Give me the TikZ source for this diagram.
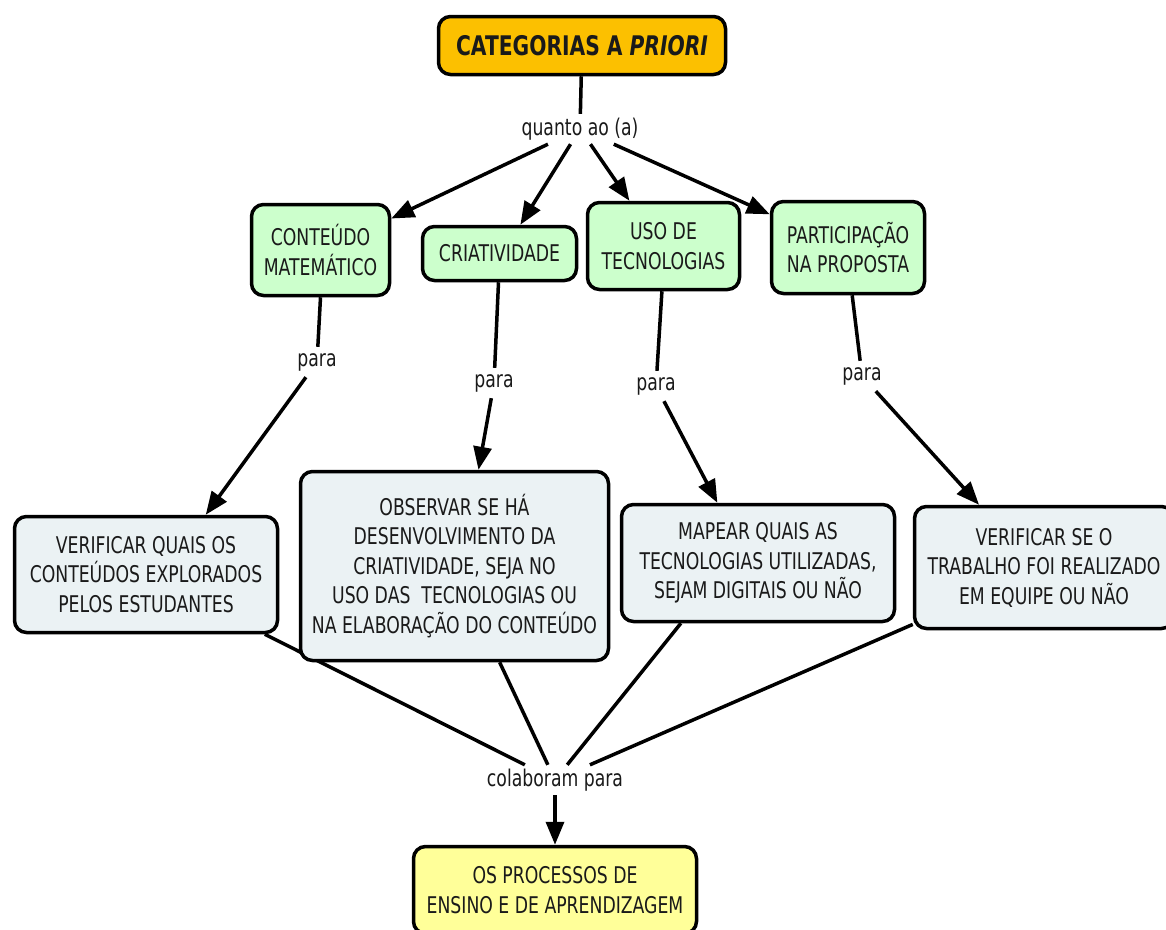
\documentclass[tikz,border=0pt]{standalone}
\usepackage{fontspec}
\setmainfont{DejaVu Sans}[FakeStretch=0.75]
\usetikzlibrary{arrows.meta}

\definecolor{boxgreen}{HTML}{CCFFCC}
\definecolor{boxgrey}{HTML}{EBF2F4}
\definecolor{boxyellow}{HTML}{FFFF99}
\definecolor{boxorange}{HTML}{FCC000}
\definecolor{ink}{HTML}{1A1A1A}

% connectors go on a layer below the concept boxes
\pgfdeclarelayer{links}
\pgfsetlayers{links,main}

\tikzset{
  concept/.style={draw=black, line width=3.5pt, rounded corners=12pt,
    align=center, text=ink, inner sep=2pt,
    font=\fontsize{23}{29.5}\selectfont},
  greenbox/.style={concept, fill=boxgreen},
  greybox/.style={concept, fill=boxgrey},
  linklabel/.style={text=ink, inner sep=2pt, minimum height=30pt,
    font=\fontsize{23}{28}\selectfont},
  link/.style={line width=3.5pt, draw=black},
  linkarrow/.style={link, -{Triangle[length=23pt 0, width=18pt 0]}}
}

\begin{document}
\begin{tikzpicture}[x=1pt, y=-1pt]
  \useasboundingbox (0,0) rectangle (1166,929);
  \clip (0,0) rectangle (1166,929);

  % root concept
  \node[concept, fill=boxorange, minimum width=287pt, minimum height=58pt,
        font=\fontsize{27}{32}\selectfont\bfseries]
    (top) at (582,45.5) {CATEGORIAS A \textit{PRIORI}};
  \node[linklabel] (q) at (580,129) {quanto ao (a)};

  % categories
  \node[greenbox, minimum width=138pt, minimum height=91pt]
    (cm) at (320.5,250) {CONTEÚDO\\MATEMÁTICO};
  \node[greenbox, minimum width=154pt, minimum height=54pt]
    (cri) at (499.5,253.5) {CRIATIVIDADE};
  \node[greenbox, minimum width=152pt, minimum height=87pt]
    (uso) at (663.5,246) {USO DE\\TECNOLOGIAS};
  \node[greenbox, minimum width=153pt, minimum height=92pt]
    (par) at (848,247.5) {PARTICIPAÇÃO\\NA PROPOSTA};

  % "para" links
  \node[linklabel] (p1) at (317,362) {para};
  \node[linklabel] (p2) at (494,383) {para};
  \node[linklabel] (p3) at (656,386) {para};
  \node[linklabel] (p4) at (862,376) {para};

  % purposes
  \node[greybox, minimum width=263pt, minimum height=116pt]
    (v1) at (146,574.5) {VERIFICAR QUAIS OS\\CONTEÚDOS EXPLORADOS\\PELOS ESTUDANTES};
  \node[greybox, minimum width=308pt, minimum height=189pt]
    (obs) at (454.5,566) {OBSERVAR SE HÁ\\DESENVOLVIMENTO DA\\CRIATIVIDADE, SEJA NO\\USO DAS\ \ TECNOLOGIAS OU\\NA ELABORAÇÃO DO CONTEÚDO};
  \node[greybox, minimum width=273pt, minimum height=117pt]
    (map) at (758,563) {MAPEAR QUAIS AS\\TECNOLOGIAS UTILIZADAS,\\SEJAM DIGITAIS OU NÃO};
  \node[greybox, minimum width=259pt, minimum height=122pt]
    (v2) at (1044,567.5) {VERIFICAR SE O\\TRABALHO FOI REALIZADO\\EM EQUIPE OU NÃO};

  % goal
  \node[linklabel] (c) at (555,780) {colaboram para};
  \node[concept, fill=boxyellow, minimum width=283pt, minimum height=87pt]
    (proc) at (555,890) {OS PROCESSOS DE\\ENSINO E DE APRENDIZAGEM};

  \begin{pgfonlayer}{links}
    \fill[white] (0,0) rectangle (1166,929);
    \draw[link] (top) -- (q);
    \draw[linkarrow] (q) -- (cm.24);
    \draw[linkarrow] (q) -- (cri.54);
    \draw[linkarrow] (q) -- (uso.127);
    \draw[linkarrow] (q) -- (par.157);

    \draw[link] (cm.south) -- (p1);
    \draw[link] (cri.-92) -- (p2);
    \draw[link] (uso.-92) -- (p3);
    \draw[link] (par.-85) -- (p4);

    \draw[linkarrow] (p1) -- (v1.45);
    \draw[linkarrow] (p2) -- (obs.76);
    \draw[linkarrow] (p3) -- (map.124);
    \draw[linkarrow] (p4) -- (v2.136);

    \draw[link] (v1) -- (c);
    \draw[link] (obs) -- (c);
    \draw[link] (map.-142) -- (c);
    \draw[link] (v2) -- (c);
    \draw[linkarrow] (c) -- (proc);
  \end{pgfonlayer}
\end{tikzpicture}
\end{document}
